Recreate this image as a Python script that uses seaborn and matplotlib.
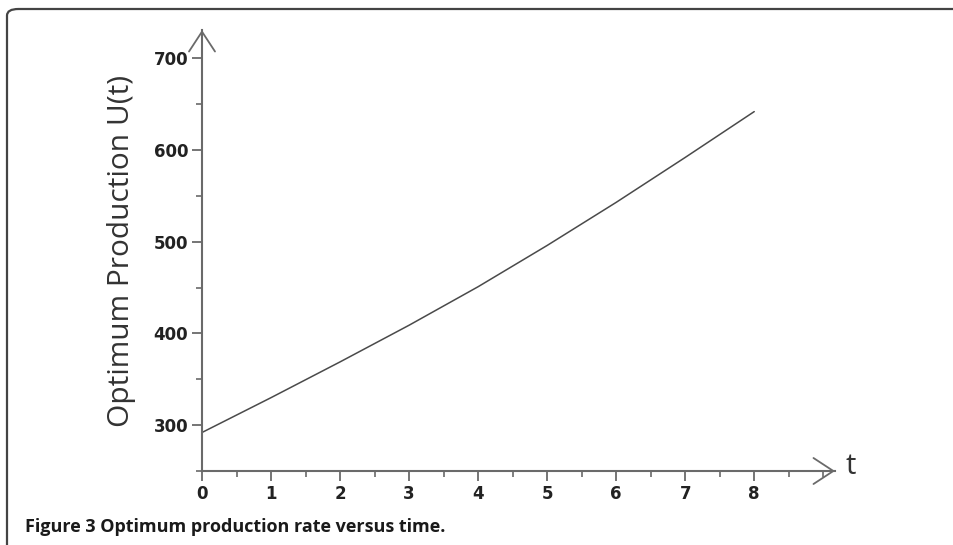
import matplotlib
matplotlib.use("Agg")
import matplotlib.pyplot as plt
import seaborn as sns
import pandas as pd
from matplotlib.patches import FancyBboxPatch
from matplotlib.ticker import MultipleLocator

# values
tiempo = [0, 1, 2, 3, 4, 5, 6, 7, 8]
produccion = [292, 330, 369, 409, 451, 496, 543, 592, 642]

ticks_x = [0, 1, 2, 3, 4, 5, 6, 7, 8]
ticks_y = [300, 400, 500, 600, 700]

sns.set_theme(style="white")
plt.rcParams["font.family"] = ["Open Sans", "DejaVu Sans"]

gris_eje = "#6a6a6a"
gris_linea = "#4a4a4a"

fig = plt.figure(figsize=(9.54, 5.45), dpi=100)

# marco redondeado de la figura (sale por la derecha y por abajo)
marco = FancyBboxPatch((7 / 954, -0.1), 1.2, 1.1 - 9 / 545,
                       boxstyle="round,pad=0,rounding_size=0.012",
                       transform=fig.transFigure, fill=False,
                       edgecolor="#444444", linewidth=1.6, clip_on=False)
fig.patches.append(marco)

ax = fig.add_axes([202 / 954, 74 / 545, 633 / 954, 441 / 545])
df = pd.DataFrame({"t": tiempo, "U": produccion})
sns.lineplot(data=df, x="t", y="U", ax=ax, color=gris_linea, linewidth=1.1)

ax.set_xlim(0, 9.17)
ax.set_ylim(250, 731)

for lado in ["top", "right"]:
    ax.spines[lado].set_visible(False)
for lado in ["left", "bottom"]:
    ax.spines[lado].set_color(gris_eje)
    ax.spines[lado].set_linewidth(1.5)

ax.set_xticks(ticks_x)
ax.set_yticks(ticks_y)
ax.xaxis.set_minor_locator(MultipleLocator(0.5))
ax.yaxis.set_minor_locator(MultipleLocator(50))
ax.tick_params(axis="both", which="major", length=7, width=1.3, color=gris_eje,
               labelsize=12, pad=3, bottom=True, left=True)
ax.tick_params(axis="both", which="minor", length=4, width=1.2, color=gris_eje,
               bottom=True, left=True)
for etiqueta in ax.get_xticklabels() + ax.get_yticklabels():
    etiqueta.set_fontfamily("DejaVu Sans")
    etiqueta.set_fontweight("bold")
    etiqueta.set_color("#222222")

ax.set_xlabel("")
ax.set_ylabel("Optimum Production U(t)", fontsize=21.5, color="#333333")
ax.yaxis.set_label_coords(-0.105, (471 - 251) / 441)
ax.grid(False)

# flechas abiertas al final de los ejes
flecha = dict(arrowstyle="->,head_length=1.1,head_width=0.72", color=gris_eje,
              lw=1.3, mutation_scale=13, shrinkA=0, shrinkB=0)
ax.annotate("", xy=(0, 1.0), xytext=(0, 0.9), xycoords="axes fraction",
            arrowprops=flecha, annotation_clip=False)
ax.annotate("", xy=(1.0, 0), xytext=(0.9, 0), xycoords="axes fraction",
            arrowprops=flecha, annotation_clip=False)

fig.text(846 / 954, 1 - 466 / 545, "t", fontsize=21, color="#333333",
         ha="left", va="center")

fig.text(25 / 954, 1 - 527 / 545, "Figure 3 Optimum production rate versus time.",
         fontsize=13, fontweight="bold", color="#1a1a1a", ha="left", va="center")

fig.savefig("out.png", dpi=100)
